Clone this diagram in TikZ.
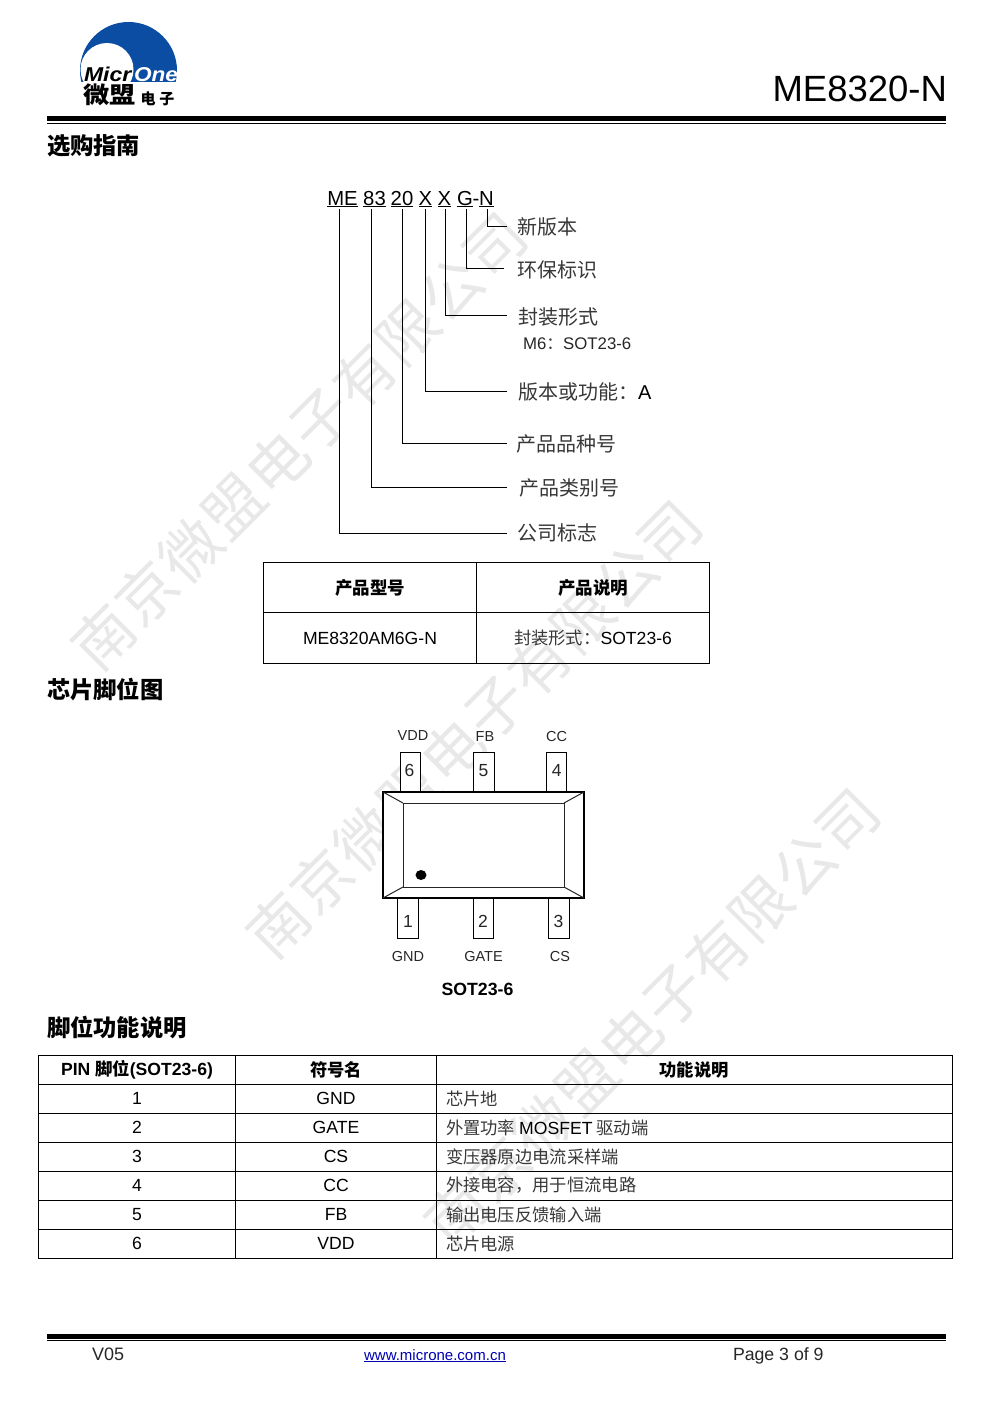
\documentclass[tikz,border=0pt]{standalone}
\usepackage{fontspec}
\setmainfont{Liberation Sans}
\newfontfamily\cjk{Noto Sans CJK SC}
\newcommand{\fs}[1]{\fontsize{#1}{#1}\selectfont}
\newcommand{\zh}[1]{{\cjk\color{black!78}#1}}
\newcommand{\zb}[1]{{\cjk\bfseries #1}}
\newcommand{\tp}[2]{\hspace*{#1pt}\raisebox{-4.3pt}[0pt][0pt]{#2}}
\newcommand{\bp}[2]{\hspace*{#1pt}\raisebox{-9.3pt}[0pt][0pt]{#2}}
\definecolor{logoblue}{HTML}{0B4DA2}
\definecolor{wm}{gray}{0.91}
\tikzset{
  ln/.style={draw=black,line width=1pt},
  txt/.style={inner sep=0pt,outer sep=0pt,black},
  lab/.style={txt,anchor=west,font=\fs{20}},
  head/.style={txt,anchor=base,font=\fs{20.3}},
  heading/.style={txt,anchor=west,font=\fs{23.3}},
  wmark/.style={txt,rotate=45,text=wm,font=\fs{60}},
  pin/.style={ln,fill=white,inner sep=0pt,minimum width=20.5pt,minimum height=40pt,font=\fs{17.5},text=black!85},
  pinlab/.style={txt,font=\fs{14.5},text=black!85},
  cell/.style={ln,inner sep=0pt,minimum height=29pt,font=\fs{17.6}},
  ca/.style={cell,minimum width=197pt},
  cb/.style={cell,minimum width=201pt},
  cc/.style={cell,minimum width=516pt,text width=496pt,align=left},
  cch/.style={cell,minimum width=516pt,align=center},
  ot/.style={ln,inner sep=0pt,font=\fs{17.6}}
}
\begin{document}
\begin{tikzpicture}[x=1pt,y=-1pt]
\useasboundingbox (0,0) rectangle (991,1403);
% watermarks
\foreach \n/\x/\y in {w1/299/441,w2/474/729,w3/652/1017}{
  \node[wmark] (\n) at (\x,\y) {\zh{\color{wm}南\hspace{1.5pt}京\hspace{1.5pt}微\hspace{1.5pt}盟\hspace{1.5pt}电\hspace{1.5pt}子\hspace{1.5pt}有\hspace{1.5pt}限\hspace{1.5pt}公\hspace{1.5pt}司}};
}
% logo
\begin{scope}
  \clip (70,15) rectangle (185,81.5);
  \fill[logoblue] (128.5,70.5) circle[radius=48.5];
  \fill[white] (107,69.5) circle[radius=26.5];
\end{scope}
\node[txt,anchor=base west,font=\fs{20}\bfseries\itshape] (logoa) at (84,81) {\scalebox{1.15}[1]{Micr}};
\node[txt,anchor=base west,font=\fs{20}\bfseries\itshape,text=white] (logob) at (134,81) {\scalebox{1.13}[1]{One}};
\node[txt,anchor=base west,font=\fs{23}] (logoc) at (83,103) {\scalebox{1.14}[1]{\zb{微盟}}};
\node[txt,anchor=base west,font=\fs{15}] (logod) at (140.5,104) {\zb{电\hspace{4pt}子}};
% header
\node[txt,anchor=base east,font=\fs{36.5}] (title) at (947,101) {ME8320-N};
\fill (47,116) rectangle (946,121);
\fill (47,122.6) rectangle (946,124);
\node[heading] (h1) at (47,146) {\zb{选购指南}};
% code
\node[head] (tme) at (342.5,205) {\underline{ME}};
\node[head] (t83) at (374.5,205) {\underline{83}};
\node[head] (t20) at (402,205) {\underline{20}};
\node[head] (tx1) at (425.5,205) {\underline{X}};
\node[head] (tx2) at (444.5,205) {\underline{X}};
\node[head] (tg) at (465,205) {\underline{G}};
\node[head] (td) at (476,205) {-};
\node[head] (tn) at (486.5,205) {\underline{N}};
\node[lab] (l1) at (517,227) {\zh{新版本}};
\node[lab] (l2) at (517,270) {\zh{环保标识}};
\node[lab] (l3) at (518,317) {\zh{封装形式}};
\node[txt,anchor=west,font=\fs{16.8},text=black!85] (l3b) at (523,344) {M6\zh{：}SOT23-6};
\node[lab] (l4) at (518,392) {\zh{版本或功能：}A};
\node[lab] (l5) at (516,444) {\zh{产品品种号}};
\node[lab] (l6) at (519,488) {\zh{产品类别号}};
\node[lab] (l7) at (517,533) {\zh{公司标志}};
\coordinate (e1) at (507,226);
\coordinate (e2) at (504,268);
\coordinate (e3) at (507,315.5);
\coordinate (e4) at (507,391);
\coordinate (e5) at (507,443);
\coordinate (e6) at (507,487.5);
\coordinate (e7) at (507,533.5);
\draw[ln] (487,209) |- (e1);
\draw[ln] (466,209) |- (e2);
\draw[ln] (445.5,209) |- (e3);
\draw[ln] (425.5,209) |- (e4);
\draw[ln] (402.5,209) |- (e5);
\draw[ln] (371.5,209) |- (e6);
\draw[ln] (339.5,209) |- (e7);
% ordering table
\node[ot,minimum width=213pt,minimum height=50pt] (oa) at (370,587.5) {\zb{\fs{17.5}产品型号}};
\node[ot,minimum width=233pt,minimum height=50pt] (ob) at (593,587.5) {\zb{\fs{17.5}产品说明}};
\node[ot,minimum width=213pt,minimum height=51pt] (oc) at (370,638) {ME8320AM6G-N};
\node[ot,minimum width=233pt,minimum height=51pt] (od) at (593,638) {\zh{\fs{17.3}封装形式：}SOT23-6};
\node[heading] (h2) at (47,690) {\zb{芯片脚位图}};
% package
\node[pin] (p6) at (410.5,772) {\tp{-2}{6}};
\node[pin] (p5) at (484,772) {\tp{-1}{5}};
\node[pin] (p4) at (556.5,772) {\tp{0.5}{4}};
\node[pin] (p1) at (408,918) {\bp{0}{1}};
\node[pin] (p2) at (483.5,918) {\bp{-1}{2}};
\node[pin] (p3) at (559,918) {\bp{-1}{3}};
\node[pinlab] (n6) at (413,736) {VDD};
\node[pinlab] (n5) at (485,737) {FB};
\node[pinlab] (n4) at (556.5,736) {CC};
\node[pinlab] (n1) at (408,956) {GND};
\node[pinlab] (n2) at (483.5,956) {GATE};
\node[pinlab] (n3) at (560,956) {CS};
\draw[line width=1.4pt,fill=white] (383,792) rectangle (584,898);
\draw[line width=1pt,draw=black!85] (403,803) rectangle (564,887);
\draw[line width=1pt,draw=black!85] (383,792) -- (403,803) (584,792) -- (564,803) (383,898) -- (403,887) (584,898) -- (564,887);
\fill (421,875) ellipse[x radius=5.5,y radius=5];
\node[txt,font=\fs{17.7}\bfseries] (cap) at (477.5,989) {SOT23-6};
\node[heading] (h3) at (47,1028) {\zb{脚位功能说明}};
% function table
\node[ca] at (137,1069.5) {\textbf{PIN }\zb{\fs{17.3}脚位}\textbf{(SOT23-6)}};
\node[cb] at (336,1069.5) {\zb{\fs{17.3}符号名}};
\node[cch] at (694,1069.5) {\zb{\fs{17.3}功能说明}};
\foreach \y/\p/\s/\d in {
  1098.5/1/GND/{\zh{\fs{17.3}芯片地}},
  1127.5/2/GATE/{\zh{\fs{17.3}外置功率\hspace{4pt}}MOSFET\zh{\fs{17.3}\hspace{4pt}驱动端}},
  1156.5/3/CS/{\zh{\fs{17.3}变压器原边电流采样端}},
  1185.5/4/CC/{\zh{\fs{17.3}外接电容，用于恒流电路}},
  1214.5/5/FB/{\zh{\fs{17.3}输出电压反馈输入端}},
  1243.5/6/VDD/{\zh{\fs{17.3}芯片电源}}}{
  \node[ca] at (137,\y) {\p};
  \node[cb] at (336,\y) {\s};
  \node[cc] at (694,\y) {\d};
}
% footer
\fill (47,1334) rectangle (946,1339);
\fill (47,1340) rectangle (946,1341.4);
\node[txt,anchor=base west,font=\fs{18},text=black!85] (v) at (92,1360) {V05};
\node[txt,anchor=base,font=\fs{15},text=blue!70!black] (u) at (435,1360) {\underline{www.microne.com.cn}};
\node[txt,anchor=base west,font=\fs{17.7},text=black!85] (pg) at (733,1360) {Page 3 of 9};
\end{tikzpicture}
\end{document}
